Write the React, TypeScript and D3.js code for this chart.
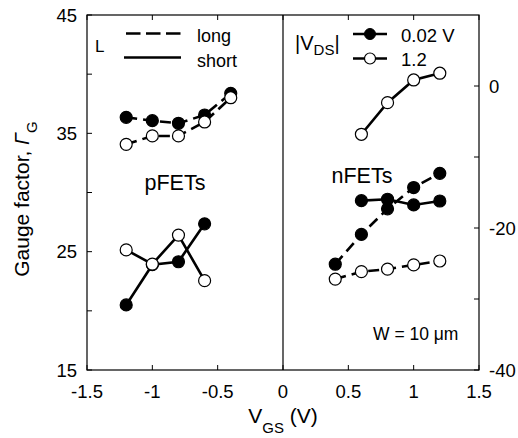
import React from "react";
import * as d3 from "d3";

// V_GS values
const pVgs = [-1.2, -1.0, -0.8, -0.6, -0.4];
const pShortVgs = [-1.2, -1.0, -0.8, -0.6];
const nVgs = [0.4, 0.6, 0.8, 1.0, 1.2];
const nShortVgs = [0.6, 0.8, 1.0, 1.2];

// pFETs (left axis)
const pLongLow = [36.35, 36.07, 35.85, 36.55, 38.38];
const pLongHigh = [34.07, 34.78, 34.78, 35.96, 38.01];
const pShortLow = [20.5, 23.9, 24.15, 27.35];
const pShortHigh = [25.15, 23.95, 26.4, 22.55];

// nFETs (right axis)
const nLongLow = [-25.1, -20.9, -17.3, -14.3, -12.3];
const nLongHigh = [-27.2, -26.15, -25.8, -25.2, -24.65];
const nShortLow = [-16.15, -15.95, -16.75, -16.2];
const nShortHigh = [-6.8, -2.35, 0.85, 1.8];

const xTicks = [-1.5, -1, -0.5, 0, 0.5, 1, 1.5];
const leftTicks = [15, 25, 35, 45];
const leftMinor = [20, 30, 40];
const rightTicks = [-40, -20, 0];
const rightMinor = [-30, -10];

const font = "'Liberation Sans', Arial, sans-serif";

const App = () => {
  const width = 518;
  const height = 438;
  const left = 87;
  const right = 479;
  const top = 15;
  const bottom = 370;

  const x = d3.scaleLinear().domain([-1.5, 1.5]).range([left, right]);
  const yL = d3.scaleLinear().domain([15, 45]).range([bottom, top]);
  const yR = d3.scaleLinear().domain([-40, 10]).range([bottom, top]);

  const series = [
    { xs: pVgs, ys: pLongLow, y: yL, dashed: true, filled: true },
    { xs: pVgs, ys: pLongHigh, y: yL, dashed: true, filled: false },
    { xs: pShortVgs, ys: pShortLow, y: yL, dashed: false, filled: true },
    { xs: pShortVgs, ys: pShortHigh, y: yL, dashed: false, filled: false },
    { xs: nVgs, ys: nLongLow, y: yR, dashed: true, filled: true },
    { xs: nVgs, ys: nLongHigh, y: yR, dashed: true, filled: false },
    { xs: nShortVgs, ys: nShortLow, y: yR, dashed: false, filled: true },
    { xs: nShortVgs, ys: nShortHigh, y: yR, dashed: false, filled: false },
  ];

  const r = 6;
  const tl = 5;

  return (
    <svg width={width} height={height} style={{ position: "absolute", left: 0, top: 0 }} fontFamily={font}>
      <rect width={width} height={height} fill="white" />
      {/* frame */}
      <rect x={left} y={top} width={right - left} height={bottom - top} fill="none" stroke="black" strokeWidth={1.2} />
      <line x1={x(0)} x2={x(0)} y1={top} y2={bottom} stroke="black" strokeWidth={1.2} />

      {/* x ticks */}
      {xTicks.map(t => (
        <g key={"x" + t}>
          <line x1={x(t)} x2={x(t)} y1={bottom} y2={bottom - tl} stroke="black" />
          <line x1={x(t)} x2={x(t)} y1={top} y2={top + tl} stroke="black" />
          <text x={x(t)} y={398} fontSize={18.5} textAnchor="middle">
            {t}
          </text>
        </g>
      ))}

      {/* left ticks */}
      {leftTicks.map(t => (
        <g key={"l" + t}>
          <line x1={left} x2={left + tl} y1={yL(t)} y2={yL(t)} stroke="black" />
          <text x={77} y={yL(t) + 6.5} fontSize={18.5} textAnchor="end">
            {t}
          </text>
        </g>
      ))}
      {leftMinor.map(t => (
        <line key={"lm" + t} x1={left} x2={left + tl} y1={yL(t)} y2={yL(t)} stroke="black" />
      ))}

      {/* right ticks */}
      {rightTicks.map(t => (
        <g key={"r" + t}>
          <line x1={right} x2={right - tl} y1={yR(t)} y2={yR(t)} stroke="black" />
          <text x={489} y={yR(t) + 6.5} fontSize={18.5} textAnchor="start">
            {t}
          </text>
        </g>
      ))}
      {rightMinor.map(t => (
        <line key={"rm" + t} x1={right} x2={right - tl} y1={yR(t)} y2={yR(t)} stroke="black" />
      ))}

      {/* series lines */}
      {series.map((s, i) => {
        const line = d3
          .line<number>()
          .x((_, j) => x(s.xs[j]))
          .y(d => s.y(d));
        return (
          <path
            key={"p" + i}
            d={line(s.ys) || ""}
            fill="none"
            stroke="black"
            strokeWidth={2.6}
            strokeDasharray={s.dashed ? "11,6" : undefined}
          />
        );
      })}
      {/* markers */}
      {series.map((s, i) =>
        s.ys.map((v, j) => (
          <circle
            key={"c" + i + "-" + j}
            cx={x(s.xs[j])}
            cy={s.y(v)}
            r={r}
            fill={s.filled ? "black" : "white"}
            stroke="black"
            strokeWidth={1.2}
          />
        ))
      )}

      {/* left legend */}
      <text x={95} y={52} fontSize={17}>L</text>
      <line x1={126} x2={181} y1={33.5} y2={33.5} stroke="black" strokeWidth={2.6} strokeDasharray="14.5,5.5" />
      <line x1={124} x2={181} y1={57.5} y2={57.5} stroke="black" strokeWidth={2.6} />
      <text x={197} y={42} fontSize={18}>long</text>
      <text x={197} y={66.5} fontSize={18}>short</text>

      {/* right legend */}
      <text x={295} y={50} fontSize={20}>
        |V<tspan fontSize={15} dy={5}>DS</tspan>
        <tspan dy={-5}>|</tspan>
      </text>
      <line x1={353} x2={387} y1={34} y2={34} stroke="black" strokeWidth={2.6} />
      <circle cx={370} cy={34} r={5.5} fill="black" stroke="black" />
      <line x1={353} x2={387} y1={58.5} y2={58.5} stroke="black" strokeWidth={2.6} />
      <circle cx={370} cy={58.5} r={5.5} fill="white" stroke="black" strokeWidth={1.2} />
      <text x={401} y={42} fontSize={18.5}>0.02 V</text>
      <text x={401} y={65.5} fontSize={18.5}>1.2</text>

      {/* annotations */}
      <text x={175} y={190} fontSize={21.5} textAnchor="middle">pFETs</text>
      <text x={362} y={183} fontSize={21.5} textAnchor="middle">nFETs</text>
      <text x={373} y={340} fontSize={17.5}>W = 10 μm</text>

      {/* axis titles */}
      <text x={283} y={423} fontSize={21} textAnchor="middle">
        V<tspan fontSize={15} dy={10}>GS</tspan>
        <tspan dy={-10}> (V)</tspan>
      </text>
      <text transform="translate(29,199) rotate(-90)" fontSize={21} textAnchor="middle">
        Gauge factor, <tspan fontStyle="italic">Γ</tspan>
        <tspan fontSize={15} dy={8}>G</tspan>
      </text>
    </svg>
  );
};

export default App;
